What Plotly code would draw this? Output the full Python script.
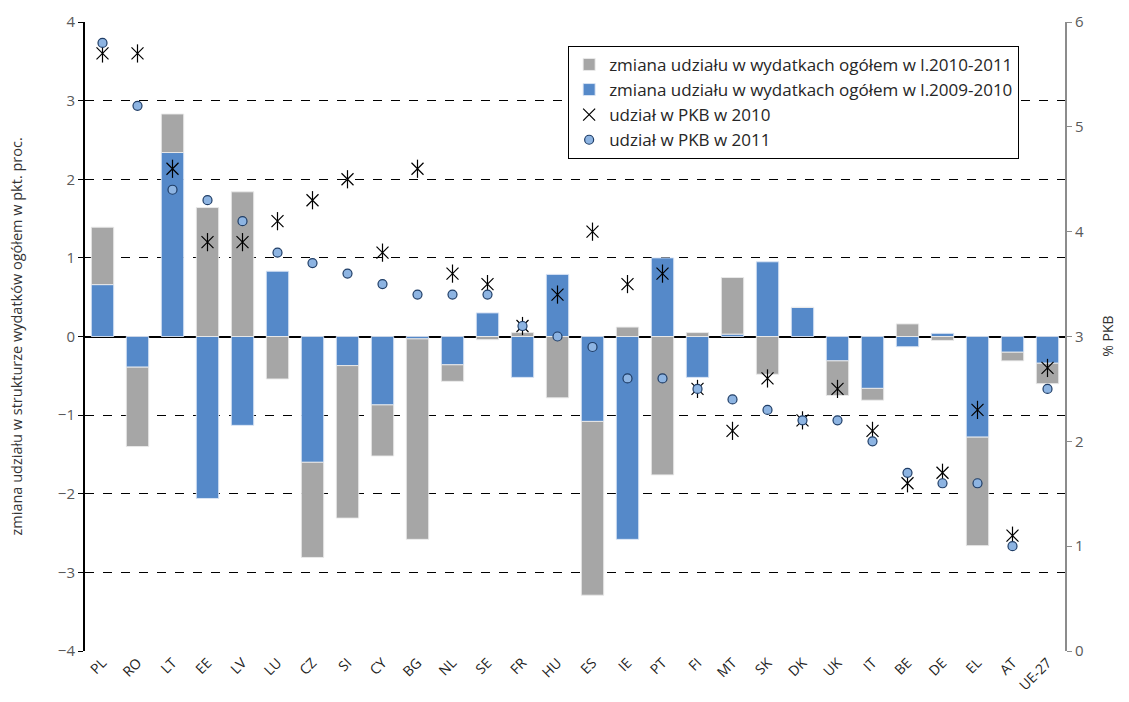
import plotly.graph_objects as go

countries = ["PL", "RO", "LT", "EE", "LV", "LU", "CZ", "SI", "CY", "BG", "NL", "SE", "FR", "HU",
             "ES", "IE", "PT", "FI", "MT", "SK", "DK", "UK", "IT", "BE", "DE", "EL", "AT", "UE-27"]
# change 2009-2010 (blue) and 2010-2011 (gray), pp
chg_0910 = [0.66, -0.39, 2.34, -2.06, -1.13, 0.83, -1.60, -0.37, -0.87, -0.03, -0.36, 0.30, -0.52, 0.79,
            -1.08, -2.58, 1.00, -0.52, 0.03, 0.95, 0.37, -0.31, -0.66, -0.13, 0.04, -1.28, -0.20, -0.34]
chg_1011 = [0.73, -1.01, 0.49, 1.64, 1.84, -0.54, -1.21, -1.94, -0.65, -2.55, -0.21, -0.04, 0.05, -0.78,
            -2.21, 0.12, -1.76, 0.05, 0.72, -0.48, 0.0, -0.44, -0.15, 0.16, -0.05, -1.38, -0.11, -0.26]
gdp_2010 = [5.7, 5.7, 4.6, 3.9, 3.9, 4.1, 4.3, 4.5, 3.8, 4.6, 3.6, 3.5, 3.1, 3.4,
            4.0, 3.5, 3.6, 2.5, 2.1, 2.6, 2.2, 2.5, 2.1, 1.6, 1.7, 2.3, 1.1, 2.7]
gdp_2011 = [5.8, 5.2, 4.4, 4.3, 4.1, 3.8, 3.7, 3.6, 3.5, 3.4, 3.4, 3.4, 3.1, 3.0,
            2.9, 2.6, 2.6, 2.5, 2.4, 2.3, 2.2, 2.2, 2.0, 1.7, 1.6, 1.6, 1.0, 2.5]

left_title = "zmiana udziału w strukturze wydatków ogółem w pkt. proc."
right_title = "% PKB"

fig = go.Figure()
fig.add_trace(go.Bar(x=countries, y=chg_0910, name="zmiana udziału w wydatkach ogółem w l.2009-2010",
                     marker=dict(color="#5589C9", line=dict(color="rgba(220,230,245,0.9)", width=1)),
                     legendrank=2))
fig.add_trace(go.Bar(x=countries, y=chg_1011, name="zmiana udziału w wydatkach ogółem w l.2010-2011",
                     marker=dict(color="#A6A6A6", line=dict(color="rgba(235,235,235,0.9)", width=1)),
                     legendrank=1))
fig.add_trace(go.Scatter(x=countries, y=gdp_2010, mode="markers", name="udział w PKB w 2010", yaxis="y2",
                         marker=dict(symbol="x-thin-open", size=12, color="black", line=dict(color="black", width=1.2)),
                         legendgroup="s", legendrank=3))
fig.add_trace(go.Scatter(x=countries, y=gdp_2010, mode="markers", showlegend=False, yaxis="y2",
                         marker=dict(symbol="line-ns-open", size=13, color="black", line=dict(color="black", width=1.2)),
                         legendgroup="s", hoverinfo="skip"))
fig.add_trace(go.Scatter(x=countries, y=gdp_2011, mode="markers", name="udział w PKB w 2011", yaxis="y2",
                         marker=dict(symbol="circle", size=9, color="#8DB4E2", line=dict(color="#1F3D66", width=1.2)),
                         legendrank=4))

fig.update_layout(
    width=1113, height=686,
    barmode="relative", bargap=0.36,
    plot_bgcolor="white", paper_bgcolor="white",
    margin=dict(l=77, r=56, t=14, b=43, autoexpand=False),
    font=dict(family="Open Sans", size=15, color="#333333"),
    xaxis=dict(type="category", range=[-0.5, len(countries) - 0.5], tickangle=-45, showgrid=False, ticks="",
               showline=False, automargin=False, tickfont=dict(size=14, color="#222222")),
    yaxis=dict(range=[-4, 4], dtick=1, tick0=0, showgrid=True, gridcolor="black", griddash="dash", gridwidth=1,
               zeroline=True, zerolinecolor="black", zerolinewidth=2, automargin=False,
               showline=True, linecolor="black", linewidth=2, ticks="outside", ticklen=5, tickcolor="black",
               tickfont=dict(size=15, color="#595959")),
    yaxis2=dict(range=[0, 6], dtick=1, overlaying="y", side="right", showgrid=False, zeroline=False,
                automargin=False,
                showline=True, linecolor="#8C8C8C", linewidth=2, ticks="outside", ticklen=5, tickcolor="#8C8C8C",
                tickfont=dict(size=15, color="#595959")),
    legend=dict(x=0.493, y=0.962, xanchor="left", yanchor="top", bordercolor="black", borderwidth=1,
                bgcolor="white", font=dict(size=17, color="#262626"), tracegroupgap=0, itemwidth=30),
    showlegend=True,
    annotations=[
        dict(text=left_title, xref="paper", yref="paper", x=-0.0694, y=0.5, showarrow=False, textangle=-90,
             xanchor="center", yanchor="middle", font=dict(size=14.5, color="#333333")),
        dict(text=right_title, xref="paper", yref="paper", x=1.043, y=0.5, showarrow=False, textangle=-90,
             xanchor="center", yanchor="middle", font=dict(size=14, color="#333333")),
    ],
)
fig.write_html("out.html")
